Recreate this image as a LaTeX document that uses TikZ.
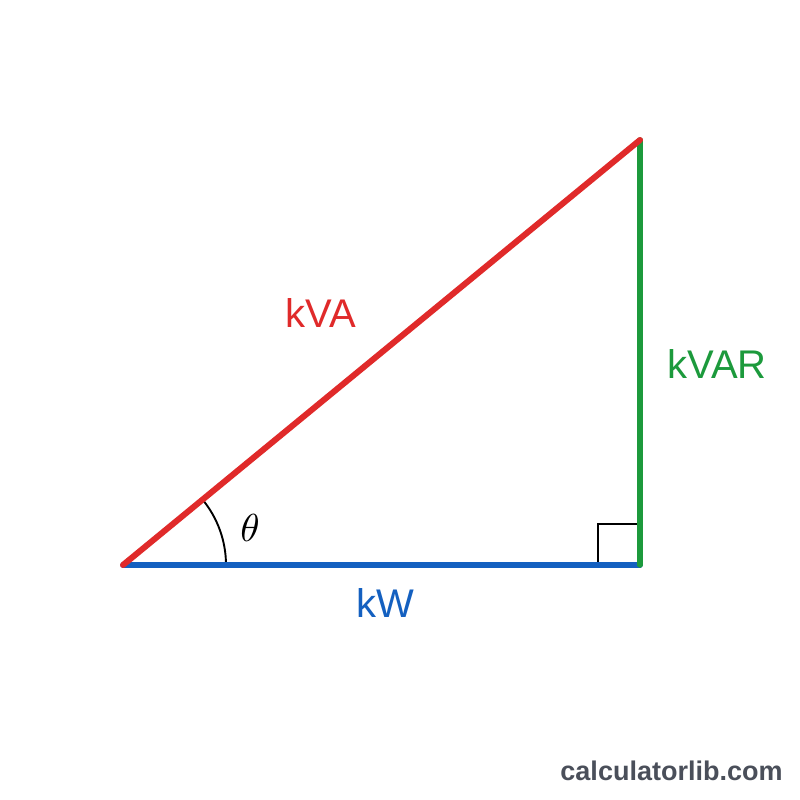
\documentclass[tikz,border=0pt]{standalone}
\usepackage{fontspec}
\setmainfont{Liberation Sans}
\definecolor{kvared}{HTML}{E02A2A}
\definecolor{kvargreen}{HTML}{1C9A3C}
\definecolor{kwblue}{HTML}{1460C0}
\definecolor{footgray}{HTML}{4A4F5A}
\begin{document}
\begin{tikzpicture}[x=1pt,y=-1pt,
  side/.style={line width=5.5pt,line cap=round},
  lbl/.style={anchor=base,inner sep=0pt,font=\fontsize{40}{40}\selectfont}]
\useasboundingbox (0,0) rectangle (800,800);
\fill[white] (0,0) rectangle (800,800);
\coordinate (A) at (123,565);
\coordinate (B) at (640,565);
\coordinate (C) at (640,140);
% right-angle mark
\coordinate (R1) at (598,565);
\coordinate (R2) at (598,524);
\coordinate (R3) at (640,524);
\draw[line width=1.8pt] (R1) -- (R2) -- (R3);
% angle arc
\coordinate (S) at (226,565);
\draw[line width=1.9pt] (S) arc[start angle=0,end angle=-39.4,radius=103];
\draw[side,kwblue] (A) -- (B);
\draw[side,kvargreen] (B) -- (C);
\draw[side,kvared,line width=6pt] (A) -- (C);
\node[lbl,text=kvared] (lva) at (321,327) {kVA};
\node[lbl,text=kvargreen] (lvar) at (717,378) {kVAR};
\node[lbl,text=kwblue] (lw) at (385,617) {kW};
\node[inner sep=0pt] (th) at (250,528) {\scalebox{3.9}{$\theta$}};
\node[anchor=base,inner sep=0pt,text=footgray,font=\bfseries\fontsize{27}{27}\selectfont] (foot) at (671.5,780) {calculatorlib.com};
\end{tikzpicture}
\end{document}
